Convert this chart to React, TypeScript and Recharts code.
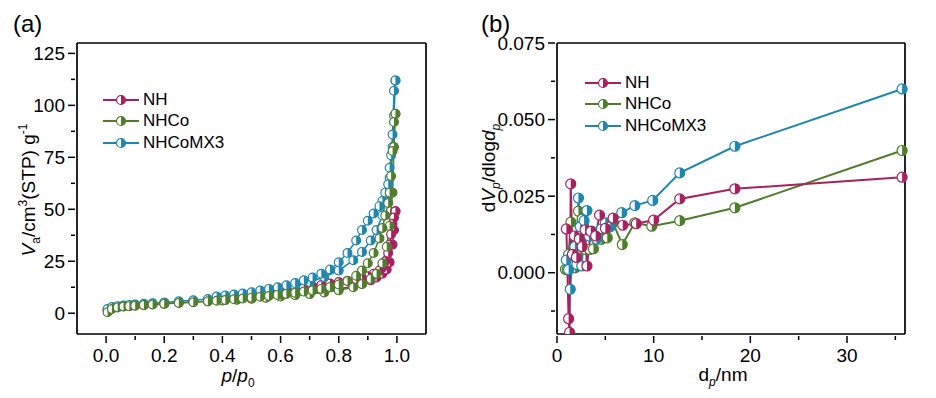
import React from "react";
import { LineChart, Line, XAxis, YAxis, Legend } from "recharts";

const FONT = "'Liberation Sans', Arial, sans-serif";

const SAMPLES = ["NH", "NHCo", "NHCoMX3"];
const COLORS: Record<string, string> = {
  NH: "#A8215E",
  NHCo: "#4F7D2C",
  NHCoMX3: "#1F86B0",
};

// (a) N2 isotherms, relative pressure p/p0
const pAds = [
  0.005, 0.02, 0.04, 0.06, 0.08, 0.1, 0.13, 0.16, 0.2, 0.25, 0.3, 0.35, 0.4, 0.45, 0.5, 0.55,
  0.6, 0.65, 0.7, 0.75, 0.8, 0.85, 0.88, 0.91, 0.93, 0.95, 0.965, 0.975, 0.985, 0.99, 0.995,
];
const pDes = [
  0.995, 0.99, 0.985, 0.98, 0.975, 0.97, 0.96, 0.95, 0.94, 0.92, 0.9, 0.88, 0.86, 0.83, 0.8,
  0.77, 0.74, 0.71, 0.68, 0.65, 0.62, 0.59, 0.56, 0.53, 0.5, 0.47, 0.44, 0.41, 0.38,
];
const nhAds = [
  1.5, 2.5, 3, 3.3, 3.5, 3.7, 4, 4.3, 4.6, 5, 5.4, 5.8, 6.2, 6.6, 7.1, 7.6, 8.2, 8.9, 9.6, 10.5,
  11.6, 13, 14.2, 15.8, 17.2, 19, 21, 24.5, 33, 40, 49,
];
const nhDes = [
  49, 46, 43, 38, 33, 29, 25, 22, 20.5, 19, 17.8, 17, 16.3, 15.6, 15, 14.3, 13.6, 12.9, 12.2,
  11.6, 11, 10.4, 9.8, 9.2, 8.6, 8, 7.5, 7, 6.6,
];
const nhcoAds = [
  0.5, 2, 2.8, 3.2, 3.4, 3.6, 3.9, 4.2, 4.5, 4.9, 5.3, 5.7, 6.1, 6.5, 7, 7.5, 8, 8.6, 9.2, 10,
  11, 12.5, 14, 16.5, 19, 24, 32, 42, 58, 80, 96,
];
const nhcoDes = [
  96, 92, 78, 66, 58, 53, 47, 41, 36, 29, 24, 20.5, 18, 15.5, 13.8, 12.6, 11.7, 11, 10.4, 9.8,
  9.3, 8.8, 8.3, 7.9, 7.5, 7.1, 6.7, 6.3, 6,
];
const mx3Ads = [
  2, 3, 3.4, 3.7, 4, 4.2, 4.5, 4.8, 5.2, 5.7, 6.2, 6.8, 7.4, 8.2, 9.2, 10.3, 11.6, 13.2, 15,
  17.4, 20.5, 25.5, 29.5, 35, 40, 47, 55, 65, 80, 95, 112,
];
const mx3Des = [
  112, 107, 86, 76, 70, 62, 58, 54, 51.5, 48, 44.5, 40, 35, 29, 24.5, 21, 19, 17.2, 15.8, 14.5,
  13.4, 12.5, 11.7, 10.9, 10.1, 9.5, 9, 8.5, 8,
];

// (b) pore size distribution
const nhD = [0.97, 1.2, 1.3, 1.42, 1.6, 1.8, 2.0, 2.3, 2.6, 2.9, 3.1, 3.5, 4.0, 4.4, 5.0, 5.8, 6.8, 8.2, 10.0, 12.7, 18.4, 35.7];
const nhV = [
  0.0143, -0.015, -0.0195, 0.029, 0.006, 0.012, 0.005, 0.011, 0.0085, 0.014, 0.0022, 0.0135,
  0.012, 0.0188, 0.0145, 0.0178, 0.0155, 0.016, 0.0172, 0.0241, 0.0274, 0.0312,
];
const nhcoD = [
  0.86, 1.05, 1.2, 1.44, 1.6, 1.88, 2.05, 2.22, 2.4, 2.6, 2.74, 2.9, 3.36, 3.77, 4.1, 4.6, 5.2,
  5.8, 6.75, 8.05, 9.8, 12.7, 18.4, 35.7,
];
const nhcoV = [
  0.0011, 0.001, 0.006, 0.0165, 0.003, 0.0016, 0.011, 0.0201, 0.012, 0.0175, 0.0157, 0.0076,
  0.0076, 0.0078, 0.0109, 0.0109, 0.0114, 0.0163, 0.0092, 0.0163, 0.0152, 0.017, 0.0212, 0.0399,
];
const mx3D = [
  0.96, 1.2, 1.37, 1.6, 1.85, 2.05, 2.22, 2.4, 2.57, 2.8, 3.09, 3.3, 3.6, 4.1, 4.6, 5.0, 5.5,
  6.7, 8.05, 9.9, 12.7, 18.4, 35.7,
];
const mx3V = [
  0.0041, 0.001, -0.0054, 0.006, 0.0085, 0.0027, 0.0244, 0.015, 0.0022, 0.017, 0.0203, 0.012,
  0.0136, 0.011, 0.0143, 0.0163, 0.015, 0.0196, 0.0219, 0.0236, 0.0326, 0.0413, 0.06,
];

// ticks
const aXTicks = [0, 0.1, 0.2, 0.3, 0.4, 0.5, 0.6, 0.7, 0.8, 0.9, 1.0];
const aXMajor = [0, 0.2, 0.4, 0.6, 0.8, 1.0];
const aYTicks = [0, 12.5, 25, 37.5, 50, 62.5, 75, 87.5, 100, 112.5, 125];
const aYMajor = [0, 25, 50, 75, 100, 125];
const bXTicks = [0, 5, 10, 15, 20, 25, 30, 35];
const bXMajor = [0, 10, 20, 30];
const bYTicks = [-0.0125, 0, 0.0125, 0.025, 0.0375, 0.05, 0.0625, 0.075];
const bYMajor = [0, 0.025, 0.05, 0.075];

const pts = (xs: number[], ys: number[]) => xs.map((x, i) => ({ x, y: ys[i] }));

function HalfDot(props: any) {
  const { cx, cy, color, r = 4.5 } = props;
  if (cx == null || cy == null || isNaN(cx) || isNaN(cy)) return null;
  return (
    <g>
      <circle cx={cx} cy={cy} r={r} fill="#fff" stroke={color} strokeWidth={1.2} />
      <path d={`M${cx},${cy - r} A${r},${r} 0 0 1 ${cx},${cy + r} Z`} fill={color} />
    </g>
  );
}

function makeTick(side: "left" | "bottom", majors: number[], fmt: (v: number) => string) {
  return (props: any) => {
    const { x, y, payload } = props;
    const v = payload.value;
    const major = majors.some((m) => Math.abs(m - v) < 1e-9);
    const len = major ? 7 : 4;
    if (side === "bottom") {
      return (
        <g>
          <line x1={x} x2={x} y1={y} y2={y + len} stroke="#000" strokeWidth={1.5} />
          {major && (
            <text x={x} y={y + 26} textAnchor="middle" fontSize={19} fontFamily={FONT} fill="#000">
              {fmt(v)}
            </text>
          )}
        </g>
      );
    }
    return (
      <g>
        <line x1={x} x2={x - len} y1={y} y2={y} stroke="#000" strokeWidth={1.5} />
        {major && (
          <text x={x - 10} y={y + 6.5} textAnchor="end" fontSize={19} fontFamily={FONT} fill="#000">
            {fmt(v)}
          </text>
        )}
      </g>
    );
  };
}

function LegendBox() {
  return (
    <div style={{ fontFamily: FONT, fontSize: 17, color: "#000" }}>
      {SAMPLES.map((name) => (
        <div key={name} style={{ display: "flex", alignItems: "center", height: 21.5 }}>
          <svg width={36} height={12}>
            <line x1={0} x2={36} y1={6} y2={6} stroke={COLORS[name]} strokeWidth={2} />
            <HalfDot cx={18} cy={6} r={4.5} color={COLORS[name]} />
          </svg>
          <span style={{ marginLeft: 4 }}>{name}</span>
        </div>
      ))}
    </div>
  );
}

const axisLine = { stroke: "#000", strokeWidth: 1.7 };

function IsothermChart() {
  const series = [
    { name: "NH", ads: nhAds, des: nhDes },
    { name: "NHCoMX3", ads: mx3Ads, des: mx3Des },
    { name: "NHCo", ads: nhcoAds, des: nhcoDes },
  ];
  return (
    <LineChart width={470} height={398} margin={{ top: 42, right: 43, left: 76, bottom: 63 }}>
      <XAxis
        dataKey="x"
        type="number"
        domain={[-0.1, 1.1]}
        ticks={aXTicks}
        interval={0}
        height={1}
        tickSize={0}
        tickLine={false}
        axisLine={axisLine}
        tick={makeTick("bottom", aXMajor, (v) => v.toFixed(1))}
      />
      <XAxis xAxisId="top" orientation="top" type="number" domain={[-0.1, 1.1]} height={1} tick={false} tickLine={false} axisLine={axisLine} />
      <YAxis
        dataKey="y"
        type="number"
        domain={[-10, 130]}
        ticks={aYTicks}
        interval={0}
        width={1}
        tickSize={0}
        tickLine={false}
        axisLine={axisLine}
        tick={makeTick("left", aYMajor, (v) => String(v))}
      />
      <YAxis yAxisId="right" orientation="right" type="number" domain={[-10, 130]} width={1} tick={false} tickLine={false} axisLine={axisLine} />
      <Legend
        layout="vertical"
        align="center"
        verticalAlign="middle"
        wrapperStyle={{ left: 103, top: 89, width: 160 }}
        content={() => <LegendBox />}
      />
      {series.flatMap((s) => [
        <Line
          key={s.name + "-ads"}
          data={pts(pAds, s.ads)}
          dataKey="y"
          type="linear"
          stroke={COLORS[s.name]}
          strokeWidth={1.5}
          dot={<HalfDot color={COLORS[s.name]} r={4.4} />}
          isAnimationActive={false}
          legendType="none"
        />,
        <Line
          key={s.name + "-des"}
          data={pts(pDes, s.des)}
          dataKey="y"
          type="linear"
          stroke={COLORS[s.name]}
          strokeWidth={1.5}
          dot={<HalfDot color={COLORS[s.name]} r={4.4} />}
          isAnimationActive={false}
          legendType="none"
        />,
      ])}
    </LineChart>
  );
}

function PoreChart() {
  const series = [
    { name: "NHCo", d: nhcoD, v: nhcoV },
    { name: "NHCoMX3", d: mx3D, v: mx3V },
    { name: "NH", d: nhD, v: nhV },
  ];
  return (
    <LineChart width={466} height={398} margin={{ top: 42, right: 30, left: 86, bottom: 63 }}>
      <XAxis
        dataKey="x"
        type="number"
        domain={[0, 36]}
        ticks={bXTicks}
        interval={0}
        height={1}
        tickSize={0}
        tickLine={false}
        axisLine={axisLine}
        tick={makeTick("bottom", bXMajor, (v) => String(v))}
      />
      <XAxis xAxisId="top" orientation="top" type="number" domain={[0, 36]} height={1} tick={false} tickLine={false} axisLine={axisLine} />
      <YAxis
        dataKey="y"
        type="number"
        domain={[-0.02, 0.075]}
        allowDataOverflow
        ticks={bYTicks}
        interval={0}
        width={1}
        tickSize={0}
        tickLine={false}
        axisLine={axisLine}
        tick={makeTick("left", bYMajor, (v) => v.toFixed(3))}
      />
      <YAxis yAxisId="right" orientation="right" type="number" domain={[-0.02, 0.075]} width={1} tick={false} tickLine={false} axisLine={axisLine} />
      <Legend
        layout="vertical"
        align="center"
        verticalAlign="middle"
        wrapperStyle={{ left: 115, top: 72, width: 160 }}
        content={() => <LegendBox />}
      />
      {series.map((s) => (
        <Line
          key={s.name}
          data={pts(s.d, s.v)}
          dataKey="y"
          type="linear"
          stroke={COLORS[s.name]}
          strokeWidth={2}
          dot={<HalfDot color={COLORS[s.name]} r={5} />}
          isAnimationActive={false}
          legendType="none"
        />
      ))}
    </LineChart>
  );
}

function Titles() {
  return (
    <svg width={936} height={398} style={{ position: "absolute", left: 0, top: 0, pointerEvents: "none" }} fontFamily={FONT} fill="#000">
      <text x={13} y={32} fontSize={24}>(a)</text>
      <text x={481} y={32} fontSize={24}>(b)</text>
      <text x={238} y={382} fontSize={19} textAnchor="middle">
        <tspan fontStyle="italic">p</tspan>/<tspan fontStyle="italic">p</tspan>
        <tspan fontSize={12} dy={5}>0</tspan>
      </text>
      <text x={723} y={381} fontSize={19} textAnchor="middle">
        d<tspan fontSize={12} dy={5} fontStyle="italic">p</tspan>
        <tspan dy={-5}>/nm</tspan>
      </text>
      <text transform="translate(35,190) rotate(-90)" fontSize={19} textAnchor="middle">
        <tspan fontStyle="italic">V</tspan>
        <tspan fontSize={12} dy={5}>a</tspan>
        <tspan dy={-5}>/cm</tspan>
        <tspan fontSize={12} dy={-8}>3</tspan>
        <tspan dy={8}>(STP) g</tspan>
        <tspan fontSize={12} dy={-8}>-1</tspan>
      </text>
      <text transform="translate(495,168) rotate(-90)" fontSize={19} textAnchor="middle">
        d<tspan fontStyle="italic">V</tspan>
        <tspan fontSize={12} dy={5} fontStyle="italic">p</tspan>
        <tspan dy={-5}>/dlog</tspan>
        <tspan fontStyle="italic">d</tspan>
        <tspan fontSize={12} dy={5} fontStyle="italic">p</tspan>
      </text>
    </svg>
  );
}

export default function App() {
  return (
    <div style={{ position: "fixed", left: 0, top: 0, width: 936, height: 398, background: "#fff", fontFamily: FONT }}>
      <div style={{ position: "absolute", left: 0, top: 0 }}>
        <IsothermChart />
      </div>
      <div style={{ position: "absolute", left: 470, top: 0 }}>
        <PoreChart />
      </div>
      <Titles />
    </div>
  );
}
